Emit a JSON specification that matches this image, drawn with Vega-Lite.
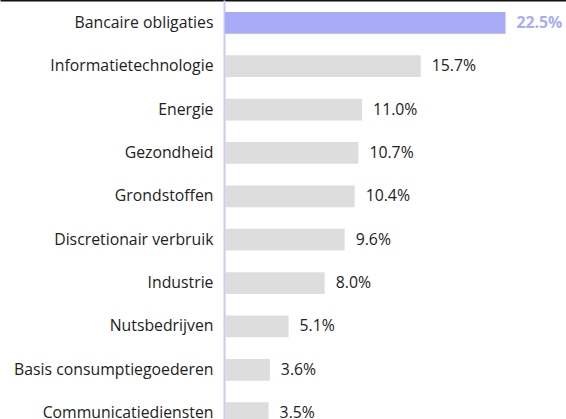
{
  "$schema": "https://vega.github.io/schema/vega-lite/v6.json",
  "width": 566,
  "height": 436,
  "padding": 0,
  "autosize": {"type": "none"},
  "background": "white",
  "config": {"view": {"stroke": null}, "font": "Open Sans"},
  "data": {"values": [
    {"cat": "Bancaire obligaties", "v": 22.5, "hl": "ja"},
    {"cat": "Informatietechnologie", "v": 15.7, "hl": "nee"},
    {"cat": "Energie", "v": 11.0, "hl": "nee"},
    {"cat": "Gezondheid", "v": 10.7, "hl": "nee"},
    {"cat": "Grondstoffen", "v": 10.4, "hl": "nee"},
    {"cat": "Discretionair verbruik", "v": 9.6, "hl": "nee"},
    {"cat": "Industrie", "v": 8.0, "hl": "nee"},
    {"cat": "Nutsbedrijven", "v": 5.1, "hl": "nee"},
    {"cat": "Basis consumptiegoederen", "v": 3.6, "hl": "nee"},
    {"cat": "Communicatiediensten", "v": 3.5, "hl": "nee"}
  ]},
  "transform": [{"calculate": "format(datum.v, '.1f') + '%'", "as": "label"}],
  "encoding": {
    "y": {"field": "cat", "type": "nominal", "sort": null,
      "scale": {"paddingInner": 0.5, "paddingOuter": 0.276},
      "axis": {"title": null, "offset": -224, "ticks": false, "labelPadding": 11, "labelLimit": 0,
        "labelFontSize": 15.8, "labelColor": "#222222", "labelFont": "Open Sans",
        "domainColor": "#c9c9f7", "domainWidth": 2}},
    "x": {"field": "v", "type": "quantitative",
      "scale": {"domain": [-18.04, 27.35], "nice": false, "zero": false},
      "axis": {"orient": "top", "title": null, "labels": false, "ticks": false, "grid": false,
        "domainColor": "#111111", "domainWidth": 2}}
  },
  "layer": [
    {"mark": {"type": "bar"},
     "encoding": {
       "x2": {"datum": 0},
       "color": {"field": "hl", "type": "nominal",
         "scale": {"domain": ["ja", "nee"], "range": ["#a8abf7", "#dddddd"]}, "legend": null}}},
    {"transform": [{"filter": "datum.hl === 'nee'"}],
     "mark": {"type": "text", "align": "left", "dx": 11, "fontSize": 15.8, "font": "Open Sans", "color": "#222222"},
     "encoding": {"text": {"field": "label", "type": "nominal"}}},
    {"transform": [{"filter": "datum.hl === 'ja'"}],
     "mark": {"type": "text", "align": "left", "dx": 11, "fontSize": 15.8, "font": "Open Sans", "fontWeight": "bold", "color": "#a8abf7"},
     "encoding": {"text": {"field": "label", "type": "nominal"}}}
  ]
}
